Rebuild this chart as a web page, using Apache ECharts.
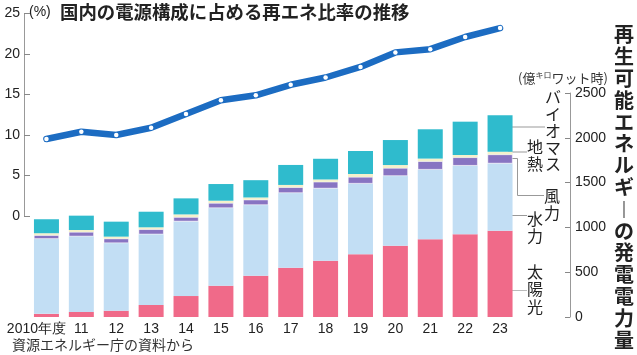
<!DOCTYPE html>
<html><head><meta charset="utf-8">
<script src="https://cdn.jsdelivr.net/npm/echarts@6/dist/echarts.min.js"></script>
<style>html,body{margin:0;padding:0;background:#fff}#c{width:637px;height:355px}</style>
</head><body><div id="c"></div>
<script>
const years = ['2010年度','11','12','13','14','15','16','17','18','19','20','21','22','23'];
const ratio = [9.5,10.4,10.0,10.9,12.6,14.3,14.9,16.2,17.1,18.4,20.2,20.6,22.1,23.2];
const solar = [35,56,70,134,234,349,461,550,628,700,796,867,923,963];
const hydro = [837,844,755,789,833,867,789,834,807,789,778,778,766,751];
const wind = [41,49,50,56,48,56,59,64,74,74,89,93,93,100];
const geo = [22,22,22,22,30,26,25,26,26,33,33,30,26,30];
const biomass = [156,160,167,174,179,186,193,223,231,257,279,327,372,409];
const leftTicks = [0,25,5];
const rightTicks = [0,2500,500];

const JP = "'Noto Sans CJK JP','Noto Sans',sans-serif";
const NUM = "'Liberation Sans','Arial',sans-serif";
const NARROW = "'Liberation Sans Narrow','Liberation Sans',sans-serif";
const chart = echarts.init(document.getElementById('c'), null, {renderer:'canvas'});

function vtext(s){ return s.split('').join('\n'); }

const gridL = 29, gridR = 119.5;
const opt = {
  animation:false,
  backgroundColor:'#fff',
  grid:[
    {left:gridL,right:gridR,top:13.5,bottom:139},
    {left:gridL,right:gridR,top:93,bottom:38}
  ],
  xAxis:[
    {type:'category',gridIndex:0,data:years,boundaryGap:true,show:false},
    {type:'category',gridIndex:1,data:years,boundaryGap:true,
     axisLine:{show:false},axisTick:{show:false},
     axisLabel:{interval:0,margin:5,color:'#222',fontSize:14,fontFamily:NARROW,
       formatter:(v,i)=> i===0 ? '{a|'+v+'}{s|}' : v,
       rich:{a:{fontSize:14,fontFamily:NARROW,color:'#222'},s:{width:20}}}}
  ],
  yAxis:[
    {type:'value',gridIndex:0,min:leftTicks[0],max:leftTicks[1],interval:leftTicks[2],position:'left',offset:5,
     splitLine:{show:false},
     axisLine:{show:true,lineStyle:{color:'#999',width:1}},
     axisTick:{show:true,inside:true,length:6,lineStyle:{color:'#888'}},
     axisLabel:{margin:4,color:'#222',fontSize:14,fontFamily:NUM}},
    {type:'value',gridIndex:1,min:rightTicks[0],max:rightTicks[1],interval:rightTicks[2],position:'right',offset:52.5,
     splitLine:{show:false},
     axisLine:{show:true,lineStyle:{color:'#999',width:1}},
     axisTick:{show:true,inside:true,length:5,lineStyle:{color:'#888'}},
     axisLabel:{margin:5,color:'#222',fontSize:14,fontFamily:NUM,formatter:v=>String(v)}}
  ],
  series:[
    {name:'太陽光',type:'bar',xAxisIndex:1,yAxisIndex:1,stack:'re',data:solar,barWidth:25,itemStyle:{color:'#f06a89'}},
    {name:'水力',type:'bar',xAxisIndex:1,yAxisIndex:1,stack:'re',data:hydro,barWidth:25,itemStyle:{color:'#c2def4'}},
    {name:'風力',type:'bar',xAxisIndex:1,yAxisIndex:1,stack:'re',data:wind,barWidth:25,itemStyle:{color:'#8874c2',borderColor:'#fff',borderWidth:0.5}},
    {name:'地熱',type:'bar',xAxisIndex:1,yAxisIndex:1,stack:'re',data:geo,barWidth:25,itemStyle:{color:'#f4f1cc'}},
    {name:'バイオマス',type:'bar',xAxisIndex:1,yAxisIndex:1,stack:'re',data:biomass,barWidth:25,itemStyle:{color:'#2fbbcd'}},
    {name:'比率',type:'line',xAxisIndex:0,yAxisIndex:0,data:ratio,
     lineStyle:{color:'#1c6cc2',width:6.5,cap:'round',join:'round'},
     symbol:'circle',symbolSize:4.5,itemStyle:{color:'#fff',borderWidth:0},z:5}
  ],
  graphic:[
    {type:'text',left:60,top:3,style:{text:'国内の電源構成に占める再エネ比率の推移',fontSize:18.4,fontWeight:'bold',fontFamily:JP,fill:'#222'}},
    {type:'text',left:29,top:5,style:{text:'(%)',fontSize:14,fontFamily:NUM,fill:'#222'}},
    {type:'text',left:518,top:71,style:{text:'(億{s|キロ}ワット時)',fontSize:13,fontFamily:JP,fill:'#333',
      rich:{s:{fontSize:8,fontFamily:JP,fill:'#333',verticalAlign:'top',padding:[0,0,6,0]}}}},
    {type:'text',x:624,y:24,style:{text:vtext('再生可能エネルギ︱の発電電力量'),fontSize:20,fontWeight:'bold',fontFamily:JP,fill:'#222',align:'center',lineHeight:21.8}},
    {type:'text',x:553,y:89,style:{text:vtext('バイオマス'),fontSize:16,fontFamily:JP,fill:'#222',align:'center',lineHeight:16.7}},
    {type:'text',x:535,y:139,style:{text:vtext('地熱'),fontSize:16,fontFamily:JP,fill:'#222',align:'center',lineHeight:16.7}},
    {type:'text',x:552,y:188,style:{text:vtext('風力'),fontSize:16,fontFamily:JP,fill:'#222',align:'center',lineHeight:16.7}},
    {type:'text',x:535,y:211,style:{text:vtext('水力'),fontSize:16,fontFamily:JP,fill:'#222',align:'center',lineHeight:16.7}},
    {type:'text',x:535,y:263,style:{text:vtext('太陽光'),fontSize:16,fontFamily:JP,fill:'#222',align:'center',lineHeight:17.5}},
    {type:'polyline',shape:{points:[[508,127],[545,127]]},style:{stroke:'#999',lineWidth:1,fill:null}},
    {type:'polyline',shape:{points:[[508,152],[527,152]]},style:{stroke:'#999',lineWidth:1,fill:null}},
    {type:'polyline',shape:{points:[[508,158.5],[517.5,158.5],[517.5,195.5],[544,195.5]]},style:{stroke:'#999',lineWidth:1,fill:null}},
    {type:'polyline',shape:{points:[[508,215.5],[527,215.5]]},style:{stroke:'#999',lineWidth:1,fill:null}},
    {type:'polyline',shape:{points:[[508,290.5],[527,290.5]]},style:{stroke:'#bbb',lineWidth:1,fill:null}},
    {type:'text',left:12,top:338,style:{text:'資源エネルギー庁の資料から',fontSize:14,fontFamily:JP,fill:'#333'}}
  ]
};
chart.setOption(opt);
</script></body></html>
